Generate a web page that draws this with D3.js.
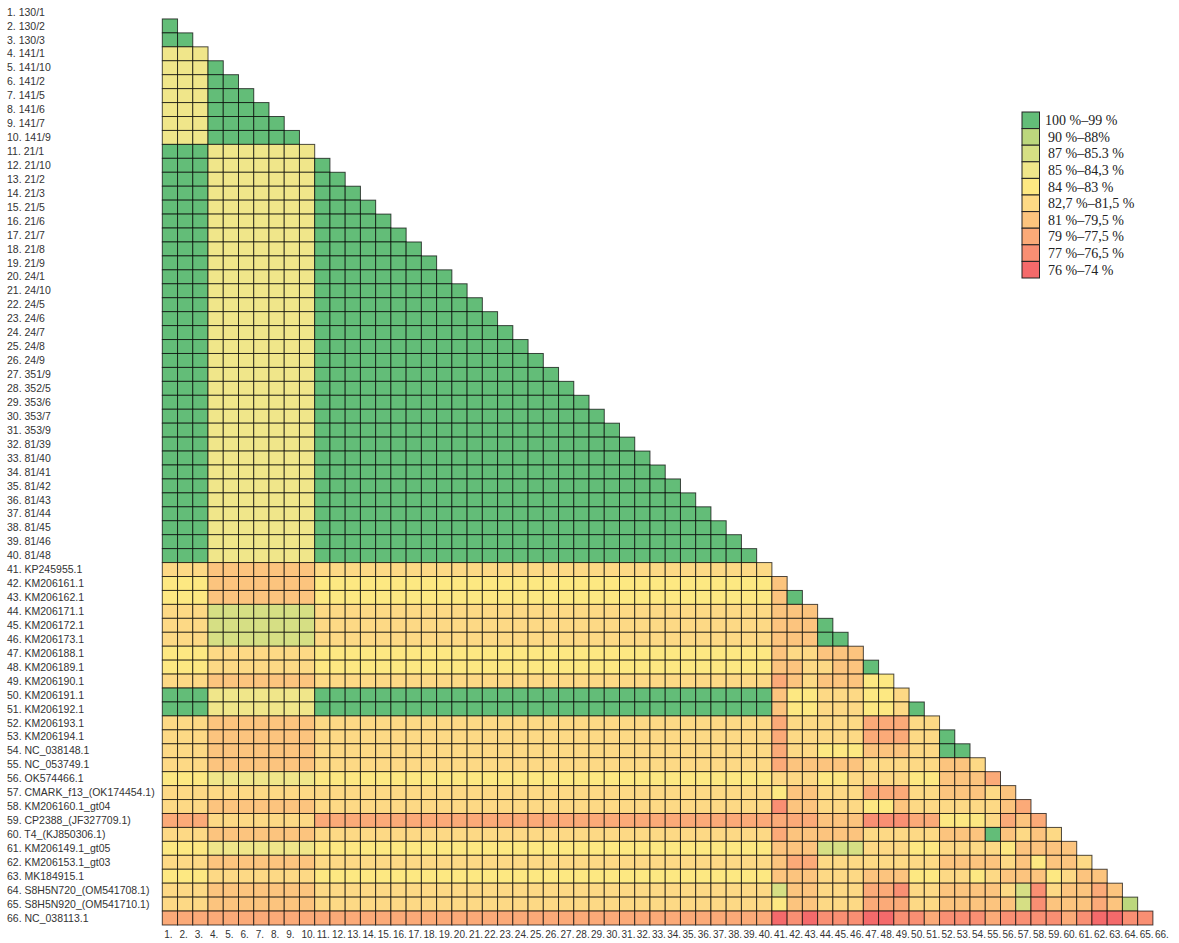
<!DOCTYPE html>
<html>
<head>
<meta charset="utf-8">
<script src="https://cdn.jsdelivr.net/npm/d3@7"></script>
<style>
  body { margin: 0; background: #fff; }
  .lbl { font-family: "Liberation Sans", Arial, sans-serif; fill: #333; }
  .leg { font-family: "Liberation Serif", "Times New Roman", serif; fill: #222; }
</style>
</head>
<body>
<script>
// sequence names (rows and columns share the same order)
var names = [
  "130/1","130/2","130/3","141/1","141/10","141/2","141/5","141/6","141/7","141/9",
  "21/1","21/10","21/2","21/3","21/5","21/6","21/7","21/8","21/9",
  "24/1","24/10","24/5","24/6","24/7","24/8","24/9",
  "351/9","352/5","353/6","353/7","353/9",
  "81/39","81/40","81/41","81/42","81/43","81/44","81/45","81/46","81/48",
  "KP245955.1","KM206161.1","KM206162.1","KM206171.1","KM206172.1","KM206173.1",
  "KM206188.1","KM206189.1","KM206190.1","KM206191.1","KM206192.1","KM206193.1",
  "KM206194.1","NC_038148.1","NC_053749.1","OK574466.1","CMARK_f13_(OK174454.1)",
  "KM206160.1_gt04","CP2388_(JF327709.1)","T4_(KJ850306.1)","KM206149.1_gt05",
  "KM206153.1_gt03","MK184915.1","S8H5N720_(OM541708.1)","S8H5N920_(OM541710.1)",
  "NC_038113.1"
];

// identity classes (legend order)
var classLabels = [
  "100 %\u201399 %", "90 %\u201388%", "87 %\u201385.3 %", "85 %\u201384,3 %", "84 %\u201383 %",
  "82,7 %\u201381,5 %", "81 %\u201379,5 %", "79 %\u201377,5 %", "77 %\u201376,5 %", "76 %\u201374 %"
];
var classColors = [
  "#63bd78", "#bcd77d", "#d6df84", "#f0e68a", "#fde882",
  "#fdd985", "#fcc47e", "#fbaa78", "#f98f73", "#f46a6b"
];

// one string per row: the digit is the class of the cell in columns 1..row-1
// (spaces only group the columns for reading)
var rows = [
  "",
  "0",
  "00",
  "333",
  "333 0",
  "333 00",
  "333 000",
  "333 0000",
  "333 00000",
  "333 000000",
  "000 3333333",
  "000 3333333 0",
  "000 3333333 00",
  "000 3333333 000",
  "000 3333333 0000",
  "000 3333333 00000",
  "000 3333333 000000",
  "000 3333333 0000000",
  "000 3333333 00000000",
  "000 3333333 000000000",
  "000 3333333 0000000000",
  "000 3333333 0000000000 0",
  "000 3333333 0000000000 00",
  "000 3333333 0000000000 000",
  "000 3333333 0000000000 0000",
  "000 3333333 0000000000 00000",
  "000 3333333 0000000000 000000",
  "000 3333333 0000000000 0000000",
  "000 3333333 0000000000 00000000",
  "000 3333333 0000000000 000000000",
  "000 3333333 0000000000 0000000000",
  "000 3333333 0000000000 0000000000 0",
  "000 3333333 0000000000 0000000000 00",
  "000 3333333 0000000000 0000000000 000",
  "000 3333333 0000000000 0000000000 0000",
  "000 3333333 0000000000 0000000000 00000",
  "000 3333333 0000000000 0000000000 000000",
  "000 3333333 0000000000 0000000000 0000000",
  "000 3333333 0000000000 0000000000 00000000",
  "000 3333333 0000000000 0000000000 000000000",
  "555 6666666 5555555555 5555555555 5555555555",
  "444 6666666 4444444444 4444444444 4444444444 6",
  "444 6666666 4444444444 4444444444 4444444444 60",
  "555 2222222 5555555555 5555555555 5555555555 666",
  "555 2222222 5555555555 5555555555 5555555555 6660",
  "555 2222222 5555555555 5555555555 5555555555 66600",
  "444 5555555 4444444444 4444444444 4444444444 655666",
  "444 5555555 4444444444 4444444444 4444444444 6655660",
  "555 6666666 5555555555 5555555555 5555555555 76566644",
  "000 3333333 0000000000 0000000000 0000000000 644555445",
  "000 3333333 0000000000 0000000000 0000000000 6445554450",
  "555 6666666 5555555555 5555555555 5555555555 75555577755",
  "555 6666666 5555555555 5555555555 5555555555 755555777550",
  "555 6666666 5555555555 5555555555 5555555555 7554446665500",
  "555 6666666 5555555555 5555555555 5555555555 76666655555665",
  "444 3333333 4444444444 4444444444 4444444444 555445555446667",
  "555 5555555 5555555555 5555555555 5555555555 4665557775566656",
  "555 6666666 5555555555 5555555555 5555555555 86655544655555567",
  "777 5555555 7777777777 7777777777 7777777777 777666888774445767",
  "555 6666666 5555555555 5555555555 5555555555 7666665555566606565",
  "444 3333333 4444444444 4444444444 4444444444 66622255544555546666",
  "555 6666666 5555555555 5555555555 5555555555 677555555556666564665",
  "444 5555555 4444444444 4444444444 4444444444 6665556664455456664566",
  "555 6666666 5555555555 5555555555 5555555555 26655577855666652856676",
  "555 6666666 5555555555 5555555555 5555555555 466555777556666628666761",
  "777 7777777 7777777777 7777777777 7777777777 9898889988788878888789988"
];

var W = 1179, H = 943;
var n = names.length;

var svg = d3.select("body").append("svg")
    .attr("width", W)
    .attr("height", H);

var x = d3.scaleBand()
    .domain(d3.range(n))
    .range([162.3, 162.3 + n * 15.24]);

var y = d3.scaleBand()
    .domain(d3.range(n))
    .range([5, 925]);

var color = d3.scaleOrdinal()
    .domain(d3.range(classColors.length))
    .range(classColors);

// flatten the rows into cells
var cells = [];
rows.forEach(function(r, i) {
    var s = r.replace(/ /g, "");
    for (var j = 0; j < s.length; j++) {
        cells.push({row: i, col: j, cls: +s[j]});
    }
});

svg.append("g")
    .selectAll("rect")
    .data(cells)
    .enter().append("rect")
    .attr("x", function(d) { return x(d.col); })
    .attr("y", function(d) { return y(d.row); })
    .attr("width", x.bandwidth())
    .attr("height", y.bandwidth())
    .attr("fill", function(d) { return color(d.cls); })
    .attr("stroke", "#000")
    .attr("stroke-opacity", 0.7)
    .attr("stroke-width", 1);

// row labels
svg.append("g")
    .selectAll("text")
    .data(names)
    .enter().append("text")
    .attr("class", "lbl")
    .attr("x", 7)
    .attr("y", function(d, i) { return y(i) + y.bandwidth() / 2; })
    .attr("dy", "0.35em")
    .attr("font-size", "10.5px")
    .text(function(d, i) { return (i + 1) + ". " + d; });

// column labels
var xAxis = svg.append("g")
    .attr("transform", "translate(0," + 925 + ")")
    .call(d3.axisBottom(x)
        .tickSize(0)
        .tickFormat(function(d) { return (d + 1) + "."; }));
xAxis.select(".domain").remove();
xAxis.selectAll("text")
    .attr("class", "lbl")
    .attr("font-size", "10px")
    .attr("text-anchor", "start")
    .attr("x", -x.bandwidth() / 2 + 2)
    .attr("dy", "0.95em")
    .style("font-family", "'Liberation Sans', Arial, sans-serif")
    .style("fill", "#333");

// legend
var legY = d3.scaleBand()
    .domain(d3.range(classLabels.length))
    .range([112, 278]);

var leg = svg.append("g").attr("class", "legend");
leg.selectAll("rect")
    .data(classColors)
    .enter().append("rect")
    .attr("x", 1022)
    .attr("y", function(d, i) { return legY(i); })
    .attr("width", 17.5)
    .attr("height", legY.bandwidth())
    .attr("fill", function(d) { return d; })
    .attr("stroke", "#222")
    .attr("stroke-width", 1);
leg.selectAll("text")
    .data(classLabels)
    .enter().append("text")
    .attr("class", "leg")
    .attr("x", function(d, i) { return i == 0 ? 1045 : 1048; })
    .attr("y", function(d, i) { return legY(i) + legY.bandwidth() / 2; })
    .attr("dy", "0.35em")
    .attr("font-size", "14px")
    .text(function(d) { return d; });
</script>
</body>
</html>
